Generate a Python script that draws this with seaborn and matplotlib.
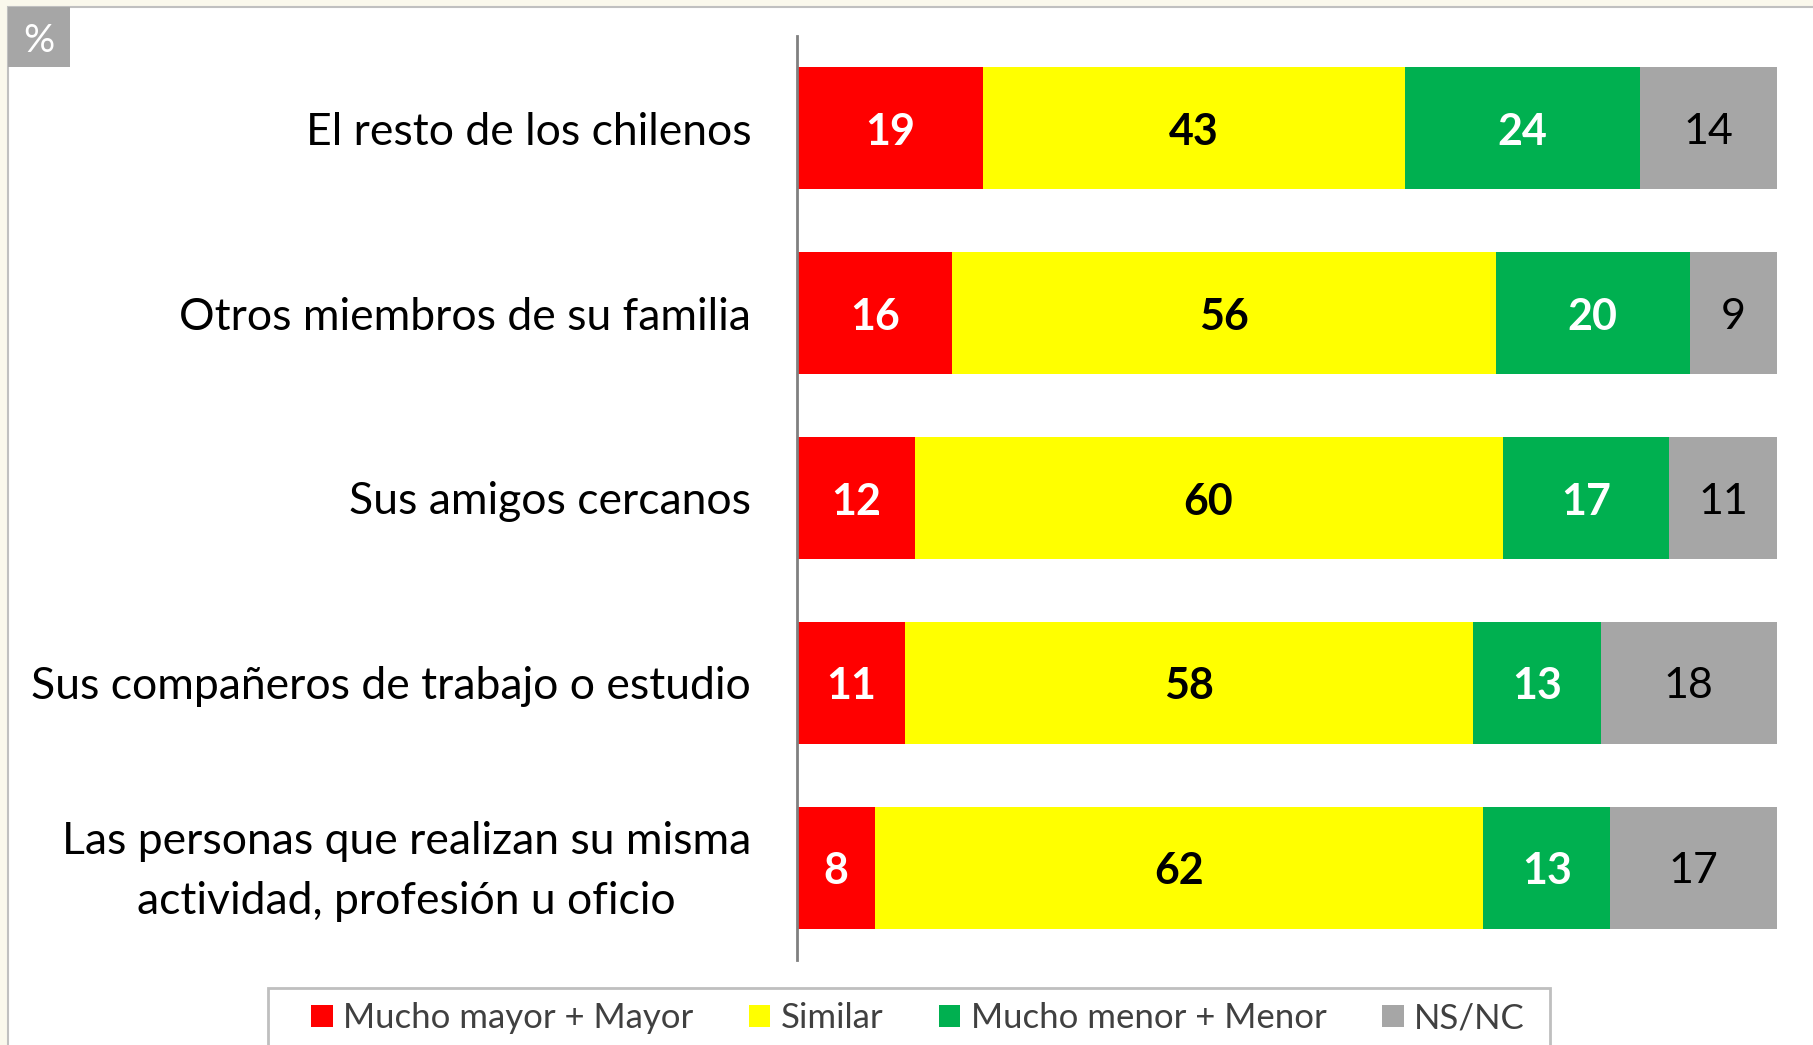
import numpy as np
import pandas as pd
import matplotlib.pyplot as plt
from matplotlib.patches import Rectangle
from matplotlib.transforms import ScaledTranslation
import seaborn as sns

# datos (porcentajes por fila)
categorias = ['El resto de los chilenos',
              'Otros miembros de su familia',
              'Sus amigos cercanos',
              'Sus compañeros de trabajo o estudio',
              'Las personas que realizan su misma\nactividad, profesión u oficio']
mayor = [19, 16, 12, 11, 8]
similar = [43, 56, 60, 58, 62]
menor = [24, 20, 17, 13, 13]
nsnc = [14, 9, 11, 18, 17]

series = ['Mucho mayor + Mayor', 'Similar', 'Mucho menor + Menor', 'NS/NC']
colores = ['#FF0000', '#FFFF00', '#00B050', '#A6A6A6']
color_texto = ['white', 'black', 'white', 'black']
peso_texto = ['bold', 'bold', 'bold', 'normal']

df = pd.DataFrame({'Categoria': categorias, series[0]: mayor, series[1]: similar,
                   series[2]: menor, series[3]: nsnc})
valores = df[series]
pct = valores.div(valores.sum(axis=1), axis=0) * 100  # barra 100% apilada
acum = pct.cumsum(axis=1)

sns.set_style('white')
plt.rcParams['font.family'] = ['Lato', 'DejaVu Sans']

W, H = 1813, 1045
fig = plt.figure(figsize=(W / 100, H / 100), dpi=100, facecolor='#FAF8EC')
ax = fig.add_axes([797 / W, 1 - 960 / H, (1777 - 797) / W, (960 - 36) / H])
ax.set_facecolor('white')

# panel blanco de fondo
fig.patches.append(Rectangle((8 / W, -0.1), 1.1, 1.1 - 7 / H, transform=fig.transFigure,
                             facecolor='white', edgecolor='#C0C0C0', linewidth=1.5, zorder=-10))

# apilado: se dibuja la suma acumulada de derecha a izquierda
for i in reversed(range(len(series))):
    sns.barplot(x=acum[series[i]], y=df['Categoria'], orient='h', color=colores[i],
                saturation=1, width=0.66, linewidth=0, label=series[i], ax=ax)

for r in range(len(categorias)):
    for i, s in enumerate(series):
        centro = acum[s].iloc[r] - pct[s].iloc[r] / 2
        ax.text(centro, r + 0.02, str(valores[s].iloc[r]), ha='center', va='center',
                fontsize=31, color=color_texto[i], fontweight=peso_texto[i])

ax.set_xlim(0, 100)
ax.set_ylim(4.5, -0.5)
ax.set_xlabel('')
ax.set_ylabel('')
ax.set_xticks([])
for lado in ['top', 'right', 'bottom']:
    ax.spines[lado].set_visible(False)
ax.spines['left'].set_color('#808080')
ax.spines['left'].set_linewidth(2)
ax.tick_params(axis='y', length=0, pad=33, labelsize=32, labelcolor='black')
for t in ax.get_yticklabels():
    t.set_multialignment('center')
    t.set_linespacing(1.58)
    if '\n' in t.get_text():
        t.set_transform(t.get_transform() + ScaledTranslation(0, 0.1, fig.dpi_scale_trans))

# leyenda
if ax.get_legend() is not None:
    ax.get_legend().remove()
handles, labels = ax.get_legend_handles_labels()
orden = [labels.index(s) for s in series]
fig.patches.append(Rectangle((268 / W, -0.1), (1550 - 268) / W, 0.1 + (1045 - 988) / H,
                             transform=fig.transFigure, facecolor='white',
                             edgecolor='#BFBFBF', linewidth=2, zorder=-5))
fig.legend([handles[k] for k in orden], [labels[k] for k in orden], loc='center',
           bbox_to_anchor=(918 / W, 1 - 1018 / H), ncol=4, frameon=False, fontsize=25,
           labelcolor='#404040', handlelength=0.62, handleheight=0.62,
           handletextpad=0.3, columnspacing=1.6)

# recuadro del porcentaje
fig.patches.append(Rectangle((8 / W, 1 - 67 / H), 62 / W, 60 / H, transform=fig.transFigure,
                             facecolor='#A6A6A6', edgecolor='none', zorder=5))
fig.text(39 / W, 1 - 41 / H, '%', color='white', fontsize=28, ha='center', va='center', zorder=6)

fig.savefig('out.png', dpi=100, facecolor=fig.get_facecolor())
